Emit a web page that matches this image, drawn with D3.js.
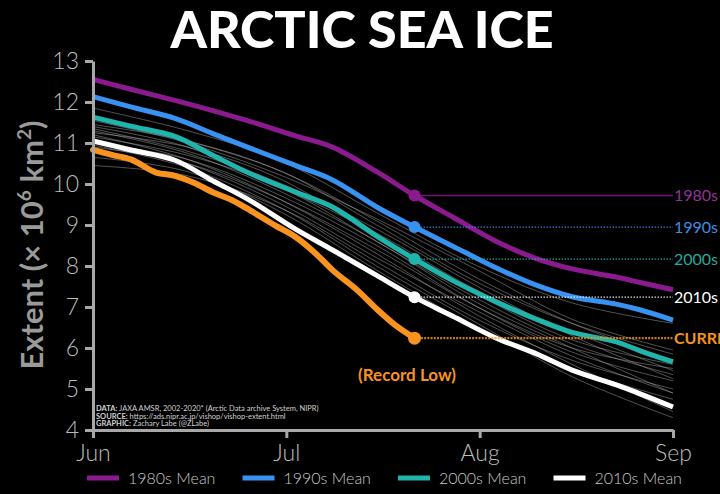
<!DOCTYPE html>
<html>
<head>
<meta charset="utf-8">
<script src="https://cdn.jsdelivr.net/npm/d3@7"></script>
<style>
  body { margin: 0; background: #000; }
  svg { display: block; font-family: Lato, "Open Sans", sans-serif; }
</style>
</head>
<body>
<div id="chart"></div>
<script>
// days after Jun 1
var days = [0, 6, 13, 19, 25, 32, 38, 45, 51, 57, 64, 70, 76, 83, 87, 92];
var mean1980s = [12.55, 12.31, 12.04, 11.79, 11.52, 11.18, 10.9, 10.3, 9.72, 9.2, 8.6, 8.2, 7.93, 7.73, 7.59, 7.42];
var mean1990s = [12.13, 11.88, 11.6, 11.23, 10.87, 10.46, 10.1, 9.44, 8.95, 8.49, 7.95, 7.55, 7.25, 7.07, 6.92, 6.68];
var mean2000s = [11.63, 11.41, 11.16, 10.7, 10.25, 9.81, 9.44, 8.73, 8.17, 7.65, 7.12, 6.72, 6.38, 6.15, 5.92, 5.66];
var mean2010s = [11.05, 10.83, 10.58, 10.08, 9.59, 8.91, 8.39, 7.77, 7.24, 6.78, 6.24, 5.88, 5.46, 5.1, 4.87, 4.56];

var currentDays = [0, 3, 6, 10, 13, 16, 19, 22, 25, 29, 32, 35, 38, 42, 45, 48, 51];
var current = [10.83, 10.71, 10.6, 10.28, 10.2, 10.03, 9.8, 9.61, 9.35, 8.98, 8.72, 8.35, 7.9, 7.4, 6.95, 6.55, 6.24];

// single years 2002-2019 (grey)
var yearDays = [0, 15, 30, 45, 61, 76, 92];
var otherYears = [
  [11.85, 11.3, 10.55, 9.3, 8.0, 7.1, 6.6],
  [11.6, 11.05, 10.3, 9.1, 7.7, 6.6, 5.7],
  [11.55, 11.0, 10.2, 9.15, 7.9, 6.7, 5.95],
  [11.45, 11.05, 10.3, 9.0, 7.6, 6.6, 5.85],
  [11.4, 10.9, 9.9, 8.8, 7.4, 6.4, 5.45],
  [11.35, 10.8, 10.0, 8.9, 7.5, 6.3, 5.25],
  [11.3, 10.75, 9.8, 8.6, 7.1, 6.0, 4.9],
  [11.25, 10.9, 10.1, 8.7, 7.3, 6.2, 5.6],
  [11.2, 10.6, 9.6, 8.3, 6.8, 5.6, 4.45],
  [11.15, 10.7, 9.9, 8.6, 7.2, 6.1, 5.35],
  [11.1, 10.5, 9.5, 8.2, 6.9, 5.8, 4.9],
  [11.0, 10.6, 9.7, 8.5, 7.0, 5.9, 5.2],
  [10.95, 10.4, 9.4, 8.0, 6.6, 5.3, 4.3],
  [10.9, 10.5, 9.6, 8.4, 7.0, 6.0, 5.5],
  [10.65, 10.3, 9.3, 7.9, 6.5, 5.5, 4.75],
  [10.45, 10.2, 9.4, 8.1, 6.7, 5.7, 5.0]
];

var months = ["Jun", "Jul", "Aug", "Sep"];
var yTicks = [4, 5, 6, 7, 8, 9, 10, 11, 12, 13];
var markDay = 51;

var series = [
  {name: "1980s", values: mean1980s, color: "#8c1a8f", label: "#93339a"},
  {name: "1990s", values: mean1990s, color: "#3792f2", label: "#3b8fe8"},
  {name: "2000s", values: mean2000s, color: "#1fb5ac", label: "#26a99f"},
  {name: "2010s", values: mean2010s, color: "#ffffff", label: "#ffffff"}
];
var orange = "#f7931e";

var W = 720, H = 494;
var mLeft = 93, mRight = 673, mTop = 61, mBottom = 430;

var svg = d3.select("#chart").append("svg")
  .attr("width", W).attr("height", H)
  .style("background", "#000");

var x = d3.scaleLinear().domain([0, 92]).range([mLeft, mRight]);
var xMonth = d3.scalePoint().domain(months).range([mLeft, mRight]);
var y = d3.scaleLinear().domain([4, 13]).range([mBottom, mTop]);

// title
svg.append("text")
  .attr("x", 362).attr("y", 48)
  .attr("text-anchor", "middle")
  .attr("fill", "#fff")
  .style("font-family", "Lato, sans-serif")
  .style("font-weight", 900)
  .style("font-size", "52px")
  .text("ARCTIC SEA ICE");

// y label
var ylab = svg.append("text")
  .attr("transform", "translate(43,245) rotate(-90)")
  .attr("text-anchor", "middle")
  .attr("fill", "#9a9a9a")
  .style("font-weight", 700)
  .style("font-size", "31px");
ylab.append("tspan").text("Extent (\u00d7 10");
ylab.append("tspan").attr("dy", -12).style("font-size", "19px").text("6");
ylab.append("tspan").attr("dy", 12).text(" km");
ylab.append("tspan").attr("dy", -12).style("font-size", "19px").text("2");
ylab.append("tspan").attr("dy", 12).text(")");

// line generator for a given day array
var line = function(xs, curve) {
  return d3.line()
    .x(function(d, i) { return x(xs[i]); })
    .y(function(d) { return y(d); })
    .curve(curve || d3.curveCatmullRom);
};

// grey single years
svg.append("g").selectAll("path")
  .data(otherYears)
  .enter().append("path")
  .attr("d", line(yearDays))
  .attr("fill", "none")
  .attr("stroke", "#bdbdbd")
  .attr("stroke-opacity", 0.55)
  .attr("stroke-width", 0.8);

// means
svg.append("g").selectAll("path")
  .data(series)
  .enter().append("path")
  .attr("d", function(d) { return line(days)(d.values); })
  .attr("fill", "none")
  .attr("stroke", function(d) { return d.color; })
  .attr("stroke-width", 5)
  .attr("stroke-linejoin", "round");

svg.append("path")
  .attr("d", line(currentDays, d3.curveMonotoneX)(current))
  .attr("fill", "none")
  .attr("stroke", orange)
  .attr("stroke-width", 6)
  .attr("stroke-linejoin", "round")
  .attr("stroke-linecap", "round");

// dotted guides + markers
var idx = days.indexOf(markDay);
var marks = series.map(function(s) {
  return {name: s.name, v: s.values[idx], color: s.color, label: s.label};
});

svg.append("g").selectAll("line")
  .data(marks)
  .enter().append("line")
  .attr("x1", x(markDay)).attr("x2", mRight)
  .attr("y1", function(d) { return y(d.v); })
  .attr("y2", function(d) { return y(d.v); })
  .attr("stroke", function(d) { return d.color; })
  .attr("stroke-width", 1.3)
  .attr("stroke-opacity", 0.85)
  .attr("stroke-dasharray", function(d) { return d.name == "1980s" ? null : "1.5,1.5"; });

var curV = current[current.length - 1];
svg.append("line")
  .attr("x1", x(markDay)).attr("x2", mRight)
  .attr("y1", y(curV)).attr("y2", y(curV))
  .attr("stroke", orange)
  .attr("stroke-opacity", 0.8)
  .attr("stroke-width", 2.2)
  .attr("stroke-dasharray", "2,1.2");

svg.append("g").selectAll("circle")
  .data(marks)
  .enter().append("circle")
  .attr("cx", x(markDay))
  .attr("cy", function(d) { return y(d.v); })
  .attr("r", 6)
  .attr("fill", function(d) { return d.color; });

svg.append("circle")
  .attr("cx", x(currentDays[currentDays.length - 1]))
  .attr("cy", y(curV))
  .attr("r", 6.5)
  .attr("fill", orange);

// right labels
svg.append("g").selectAll("text")
  .data(marks)
  .enter().append("text")
  .attr("x", mRight + 1)
  .attr("y", function(d) { return y(d.v) + 6; })
  .attr("fill", function(d) { return d.label; })
  .style("font-size", "16px")
  .text(function(d) { return d.name; });

svg.append("text")
  .attr("x", mRight + 1).attr("y", y(curV) + 6)
  .attr("fill", orange)
  .style("font-size", "16px")
  .style("font-weight", 700)
  .text("CURRENT");

svg.append("text")
  .attr("x", 407).attr("y", 381)
  .attr("text-anchor", "middle")
  .attr("fill", orange)
  .style("font-size", "17px")
  .style("font-weight", 700)
  .text("(Record Low)");

// source text
var src = [["DATA:", " JAXA AMSR, 2002-2020* (Arctic Data archive System, NIPR)"],
           ["SOURCE:", " https://ads.nipr.ac.jp/vishop/vishop-extent.html"],
           ["GRAPHIC:", " Zachary Labe (@ZLabe)"]];
var srcText = svg.append("g").selectAll("text")
  .data(src)
  .enter().append("text")
  .attr("x", 96)
  .attr("y", function(d, i) { return 411 + i * 7.5; })
  .attr("fill", "#d0d0d0")
  .style("font-size", "7.5px");
srcText.append("tspan").style("font-weight", 700).text(function(d) { return d[0]; });
srcText.append("tspan").text(function(d) { return d[1]; });

// axes
var yAxis = svg.append("g")
  .attr("transform", "translate(" + mLeft + ",0)")
  .call(d3.axisLeft(y).tickValues(yTicks).tickSize(8).tickSizeOuter(0).tickPadding(6));
var xAxis = svg.append("g")
  .attr("transform", "translate(0," + mBottom + ")")
  .call(d3.axisBottom(xMonth).tickSize(8).tickSizeOuter(0).tickPadding(7));

[yAxis, xAxis].forEach(function(a) {
  a.select(".domain").attr("stroke", "#a8a8a8").attr("stroke-width", 3);
  a.selectAll(".tick line").attr("stroke", "#a8a8a8").attr("stroke-width", 3);
  a.selectAll(".tick text")
    .attr("fill", "#bdbdbd")
    .style("font-family", "Lato, sans-serif")
    .style("font-weight", 300)
    .style("font-size", "23px");
});

// legend
var legend = svg.append("g").selectAll("g")
  .data(series)
  .enter().append("g")
  .attr("transform", function(d, i) { return "translate(" + (87 + i * 155.5) + ",478)"; });
legend.append("line")
  .attr("x1", 0).attr("x2", 32)
  .attr("stroke", function(d) { return d.color; })
  .attr("stroke-width", 5);
legend.append("text")
  .attr("x", 41).attr("y", 6)
  .attr("fill", "#c8c8c8")
  .style("font-weight", 300)
  .style("font-size", "16px")
  .text(function(d) { return d.name + " Mean"; });
</script>
</body>
</html>
